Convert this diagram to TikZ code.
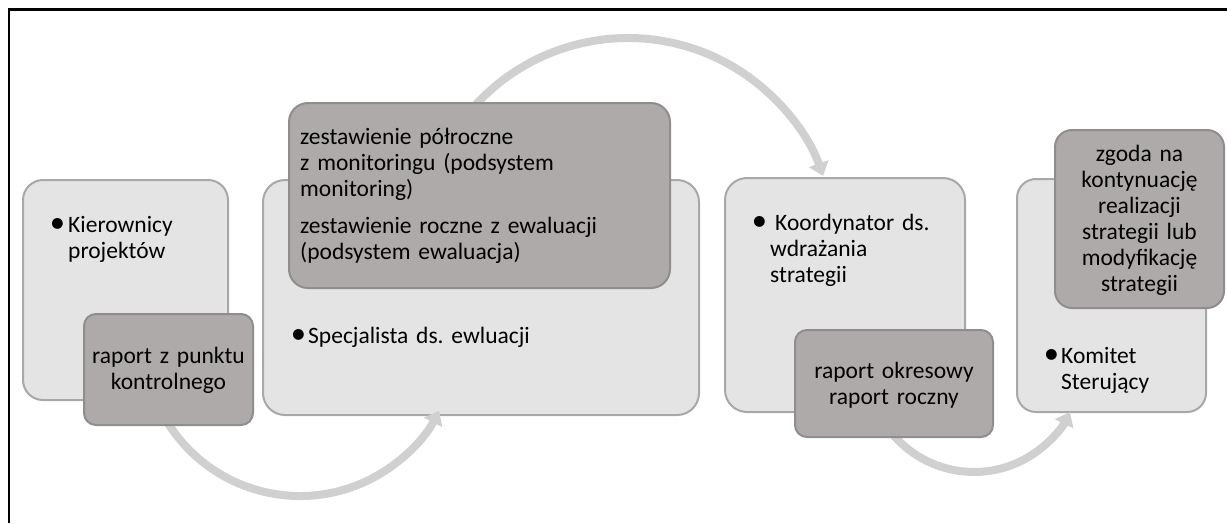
\documentclass[tikz,border=0pt]{standalone}
\usepackage{fontspec}
\setmainfont{Carlito}
\frenchspacing
\usetikzlibrary{arrows.meta}
\definecolor{lightfill}{HTML}{E4E4E4}
\definecolor{lightline}{HTML}{A8A8A8}
\definecolor{darkfill}{HTML}{AEAAAA}
\definecolor{darkline}{HTML}{8F8D8D}
\definecolor{arrowgray}{HTML}{D0D0D0}
\newcommand{\bul}[1]{\llap{\scalebox{1.3}{•}\hspace{#1}}}
\begin{document}
\begin{tikzpicture}[x=1pt,y=-1pt,
  lightbox/.style={draw=lightline,fill=lightfill,line width=2pt,inner sep=0pt,rounded corners=#1},
  darkbox/.style={draw=darkline,fill=darkfill,line width=2pt,inner sep=0pt,rounded corners=#1},
  flowarrow/.style={draw=arrowgray,line width=8pt,-{Triangle[width=20pt,length=13pt]}},
  txt/.style={inner sep=0pt,font=\fontsize{23.5}{26}\selectfont},
]
\useasboundingbox (0,0) rectangle (1227,523);
\fill[white] (0,0) rectangle (1227,523);
% frame (cut off at right and bottom)
\coordinate (fbl) at (9,523);
\coordinate (ftl) at (9,9.5);
\coordinate (ftr) at (1227,9.5);
\draw[line width=2.5pt] (fbl) -- (ftl) -- (ftr);

% light boxes
\node[lightbox=20pt,minimum width=205pt,minimum height=220pt] (k1) at (125.5,290) {};
\node[lightbox=22pt,minimum width=436pt,minimum height=235pt] (k2) at (481,297.5) {};
\node[lightbox=22pt,minimum width=240pt,minimum height=234pt] (k3) at (845,295) {};
\node[lightbox=19pt,minimum width=189pt,minimum height=233pt] (k4) at (1111.5,295.5) {};

% arrows
\coordinate (a1s) at (164.9,418);
\draw[flowarrow] (a1s) arc[start angle=150,end angle=27,radius=156];
\coordinate (a2s) at (458.4,126.3);
\draw[flowarrow] (a2s) arc[start angle=-145,end angle=-19.5,radius=207];
\coordinate (a3s) at (886.7,426.5);
\draw[flowarrow] (a3s) arc[start angle=145,end angle=26,radius=106.6];

% dark boxes
\node[darkbox=12pt,minimum width=169pt,minimum height=111pt] (d1) at (168.5,369.5) {};
\node[darkbox=19pt,minimum width=381pt,minimum height=185pt] (d2) at (479.5,195.5) {};
\node[darkbox=12pt,minimum width=198pt,minimum height=107pt] (d3) at (894,383.5) {};
\node[darkbox=17pt,minimum width=169pt,minimum height=178pt] (d4) at (1139.5,219) {};

% texts
\node[txt,anchor=base west,align=left,text width=150pt] (t1) at (68,232)
  {\bul{3pt}Kierownicy\\projektów};
\node[txt,anchor=base,align=center,text width=165pt] (t1d) at (168.5,363)
  {raport z punktu\\kontrolnego};
\node[txt,anchor=base west,align=left,text width=365pt] (t2d) at (300,144)
  {zestawienie półroczne\\z monitoringu (podsystem\\monitoring)\\[11pt]zestawienie roczne z ewaluacji\\(podsystem ewaluacja)};
\node[txt,anchor=base west,align=left,text width=380pt] (t2) at (308,343)
  {\bul{2pt}Specjalista ds. ewluacji};
\node[txt,anchor=base west,align=left,text width=180pt] (t3) at (770,230)
  {\bul{3pt}\hspace{5pt}Koordynator ds.\\wdrażania\\strategii};
\node[txt,anchor=base,align=center,text width=195pt] (t3d) at (894,378)
  {raport okresowy\\raport roczny};
\node[txt,anchor=base,align=center,text width=165pt] (t4d) at (1139.5,161)
  {zgoda na\\kontynuację\\realizacji\\strategii lub\\modyfikację\\strategii};
\node[txt,anchor=base west,align=left,text width=140pt] (t4) at (1061,363)
  {\bul{2pt}Komitet\\Sterujący};
\end{tikzpicture}
\end{document}
